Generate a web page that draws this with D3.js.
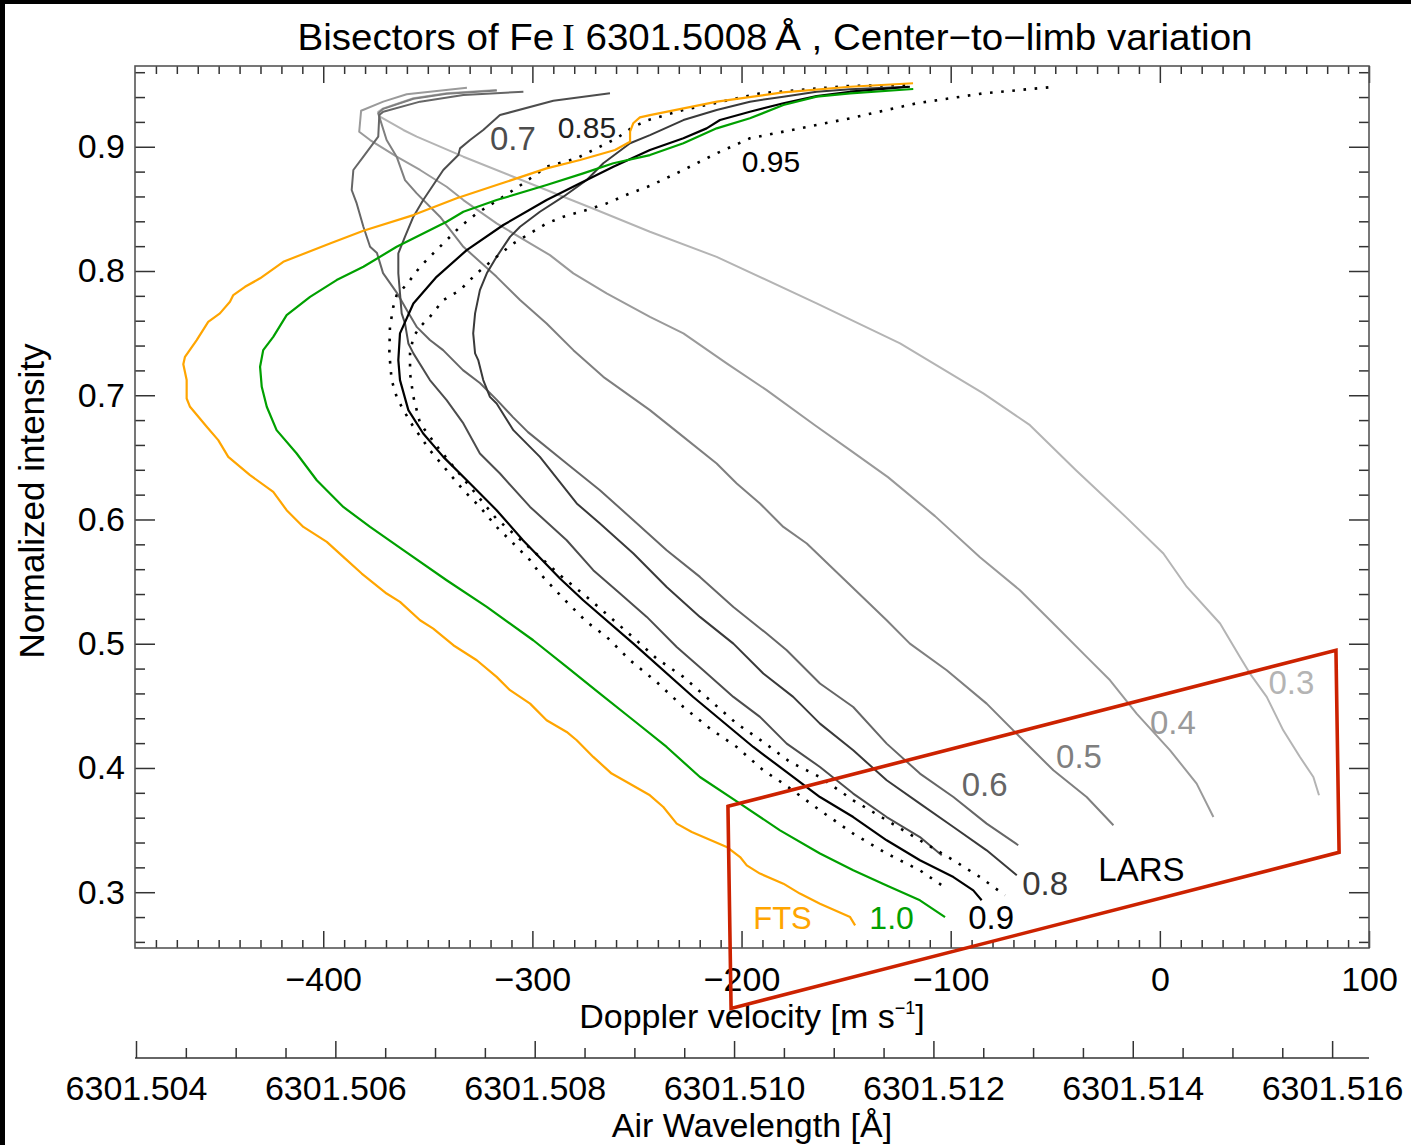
<!DOCTYPE html>
<html>
<head>
<meta charset="utf-8">
<script src="https://cdn.jsdelivr.net/npm/d3@7"></script>
<style>
  body { margin: 0; background: #fff; }
  svg { display: block; }
  text { font-family: "Liberation Sans", Arial, Helvetica, sans-serif; }
</style>
</head>
<body>
<svg id="chart" width="1411" height="1145"></svg>
<script>
// bisector curves, [velocity m/s, normalized intensity]
const mu03 = [[-317.1,0.9457],[-341.0,0.9430],[-356.9,0.9390],[-371.3,0.9309],[-373.7,0.9282],[-372.9,0.9242],[-361.7,0.9135],[-355.3,0.9081],[-333.0,0.8920],[-309.1,0.8759],[-285.2,0.8598],[-269.3,0.8491],[-243.8,0.8316],[-211.9,0.8114],[-164.1,0.7739],[-124.2,0.7417],[-84.4,0.7015],[-62.1,0.6759],[-40.1,0.6397],[-16.2,0.6019],[1.7,0.5726],[12.9,0.5457],[28.8,0.5163],[38.3,0.4894],[43.1,0.4760],[51.1,0.4572],[59.0,0.4303],[67.0,0.4088],[73.4,0.3927],[76.1,0.3780]];
const mu04 = [[-331.3,0.9475],[-349.0,0.9443],[-360.1,0.9422],[-371.3,0.9363],[-381.9,0.9290],[-382.8,0.9121],[-377.6,0.9054],[-364.9,0.8920],[-353.7,0.8813],[-341.0,0.8678],[-333.0,0.8571],[-317.1,0.8383],[-301.1,0.8222],[-291.6,0.8128],[-280.4,0.7981],[-264.5,0.7820],[-243.8,0.7631],[-227.8,0.7498],[-207.1,0.7256],[-188.0,0.7041],[-164.9,0.6759],[-148.1,0.6558],[-130.0,0.6341],[-107.5,0.6027],[-86.0,0.5696],[-66.9,0.5431],[-50.9,0.5163],[-35.0,0.4894],[-23.8,0.4706],[-11.1,0.4438],[4.9,0.4142],[17.6,0.3874],[25.6,0.3605]];
const mu05 = [[-317.0,0.9452],[-341.0,0.9426],[-356.9,0.9386],[-371.3,0.9305],[-373.7,0.9269],[-369.7,0.9054],[-364.9,0.8920],[-360.9,0.8732],[-355.3,0.8625],[-344.2,0.8437],[-333.0,0.8195],[-317.1,0.7953],[-305.9,0.7766],[-293.2,0.7578],[-280.4,0.7363],[-266.1,0.7148],[-243.8,0.6880],[-227.8,0.6665],[-211.9,0.6451],[-202.3,0.6290],[-191.2,0.6129],[-180.0,0.5940],[-168.8,0.5807],[-150.5,0.5511],[-130.6,0.5189],[-119.5,0.5001],[-101.9,0.4787],[-82.8,0.4518],[-66.9,0.4249],[-50.9,0.3981],[-35.0,0.3766],[-22.2,0.3539]];
const mu06 = [[-304.3,0.9443],[-333.0,0.9417],[-353.7,0.9363],[-371.3,0.9282],[-373.2,0.9255],[-373.7,0.9081],[-380.8,0.8920],[-385.6,0.8813],[-386.4,0.8652],[-384.0,0.8544],[-380.8,0.8356],[-377.6,0.8195],[-374.3,0.8144],[-371.4,0.7983],[-364.7,0.7822],[-360.0,0.7685],[-355.2,0.7548],[-349.0,0.7444],[-342.7,0.7363],[-333.2,0.7202],[-325.1,0.7098],[-316.9,0.6961],[-309.3,0.6824],[-302.1,0.6703],[-283.6,0.6451],[-267.7,0.6236],[-251.7,0.5994],[-235.8,0.5753],[-219.9,0.5538],[-203.9,0.5296],[-188.0,0.5082],[-178.4,0.4948],[-162.5,0.4680],[-146.6,0.4491],[-130.6,0.4196],[-114.7,0.3955],[-98.7,0.3766],[-82.8,0.3552],[-67.7,0.3378]];
const mu07 = [[-262.9,0.9430],[-290.0,0.9371],[-315.5,0.9255],[-323.5,0.9135],[-329.8,0.9054],[-334.6,0.8987],[-335.4,0.8933],[-342.6,0.8813],[-352.2,0.8571],[-356.9,0.8437],[-360.9,0.8276],[-364.1,0.8142],[-364.1,0.7981],[-363.3,0.7820],[-362.5,0.7659],[-360.9,0.7578],[-359.3,0.7417],[-356.9,0.7337],[-349.0,0.7122],[-341.0,0.6961],[-333.0,0.6773],[-325.1,0.6531],[-315.5,0.6370],[-301.1,0.6101],[-283.6,0.5833],[-270.9,0.5592],[-258.1,0.5404],[-245.3,0.5216],[-231.0,0.4974],[-218.3,0.4787],[-203.9,0.4572],[-191.2,0.4411],[-178.4,0.4196],[-162.5,0.4008],[-146.6,0.3794],[-130.6,0.3605],[-114.7,0.3444],[-104.3,0.3297]];
const mu08 = [[-120.3,0.9483],[-148.1,0.9462],[-164.1,0.9443],[-180.0,0.9403],[-196.0,0.9363],[-211.9,0.9296],[-227.8,0.9215],[-243.8,0.9094],[-253.3,0.9028],[-266.1,0.8867],[-274.0,0.8732],[-285.2,0.8598],[-296.4,0.8477],[-305.9,0.8356],[-310.7,0.8275],[-317.1,0.8114],[-321.8,0.7981],[-325.1,0.7846],[-327.4,0.7659],[-328.3,0.7498],[-327.4,0.7337],[-325.9,0.7283],[-323.5,0.7122],[-320.3,0.6987],[-317.1,0.6934],[-309.1,0.6719],[-296.4,0.6504],[-278.8,0.6129],[-267.7,0.5968],[-251.7,0.5726],[-235.8,0.5457],[-219.9,0.5216],[-203.9,0.5001],[-189.6,0.4760],[-175.3,0.4572],[-162.5,0.4357],[-146.6,0.4142],[-130.6,0.3901],[-114.7,0.3713],[-98.7,0.3525],[-82.8,0.3337],[-68.4,0.3136]];
const mu085 = [[-121.8,0.9497],[-149.7,0.9489],[-191.2,0.9430],[-227.8,0.9296],[-244.6,0.9215],[-251.7,0.9161],[-259.7,0.9068],[-269.3,0.8987],[-278.8,0.8907],[-293.2,0.8839],[-304.3,0.8706],[-313.9,0.8598],[-326.6,0.8464],[-334.6,0.8356],[-339.4,0.8275],[-347.4,0.8142],[-353.7,0.8034],[-358.5,0.7927],[-362.5,0.7846],[-364.9,0.7806],[-366.5,0.7712],[-368.1,0.7551],[-368.4,0.7337],[-367.3,0.7122],[-364.9,0.6987],[-361.7,0.6880],[-356.9,0.6746],[-349.0,0.6558],[-341.0,0.6397],[-333.0,0.6236],[-325.1,0.6101],[-317.1,0.5940],[-309.1,0.5807],[-301.1,0.5672],[-296.4,0.5565],[-285.2,0.5364],[-274.0,0.5175],[-264.5,0.5055],[-253.3,0.4867],[-240.6,0.4692],[-227.8,0.4491],[-215.1,0.4317],[-202.3,0.4169],[-189.6,0.3981],[-180.0,0.3874],[-162.5,0.3659],[-146.6,0.3472],[-130.6,0.3311],[-114.7,0.3176],[-101.9,0.3029]];
const mu09 = [[-119.5,0.9483],[-148.1,0.9443],[-164.1,0.9408],[-180.0,0.9350],[-196.0,0.9282],[-210.3,0.9215],[-216.7,0.9148],[-227.8,0.9068],[-243.8,0.8974],[-261.3,0.8839],[-277.2,0.8706],[-293.2,0.8571],[-313.9,0.8370],[-331.4,0.8168],[-345.8,0.7953],[-356.9,0.7739],[-363.3,0.7498],[-364.1,0.7283],[-363.3,0.7122],[-359.3,0.6880],[-352.2,0.6692],[-342.6,0.6504],[-329.8,0.6290],[-317.1,0.6075],[-304.5,0.5833],[-286.8,0.5525],[-275.7,0.5350],[-251.7,0.5001],[-223.1,0.4571],[-194.4,0.4169],[-162.5,0.3766],[-146.6,0.3605],[-130.6,0.3418],[-114.7,0.3257],[-98.7,0.3122],[-89.2,0.3015],[-85.2,0.2935]];
const mu095 = [[-53.3,0.9478],[-84.4,0.9430],[-116.3,0.9350],[-148.1,0.9229],[-172.1,0.9148],[-196.0,0.9068],[-211.9,0.8947],[-227.8,0.8813],[-243.8,0.8685],[-253.3,0.8625],[-264.5,0.8544],[-274.0,0.8491],[-285.2,0.8437],[-293.2,0.8383],[-301.1,0.8303],[-309.1,0.8222],[-317.1,0.8114],[-326.6,0.7981],[-334.6,0.7846],[-342.6,0.7766],[-349.0,0.7631],[-353.7,0.7551],[-356.9,0.7470],[-358.5,0.7337],[-358.5,0.7176],[-356.9,0.6987],[-353.7,0.6773],[-344.2,0.6558],[-329.8,0.6263],[-317.4,0.6010],[-302.7,0.5793],[-286.8,0.5552],[-274.0,0.5377],[-262.1,0.5203],[-249.4,0.5015],[-240.6,0.4881],[-227.8,0.4733],[-215.1,0.4545],[-202.3,0.4357],[-189.6,0.4209],[-176.8,0.4048],[-162.5,0.3927],[-146.6,0.3740],[-130.6,0.3579],[-114.7,0.3418],[-98.7,0.3257],[-86.0,0.3122],[-74.0,0.2975]];
const mu10 = [[-117.9,0.9465],[-148.1,0.9430],[-164.1,0.9403],[-180.0,0.9336],[-196.0,0.9229],[-211.9,0.9148],[-227.8,0.9028],[-243.8,0.8933],[-261.3,0.8867],[-275.7,0.8786],[-293.2,0.8692],[-317.1,0.8571],[-333.0,0.8477],[-341.0,0.8396],[-364.9,0.8195],[-380.8,0.8034],[-393.6,0.7927],[-406.3,0.7792],[-417.5,0.7645],[-423.9,0.7470],[-428.7,0.7363],[-430.2,0.7229],[-429.4,0.7068],[-427.0,0.6907],[-422.3,0.6719],[-412.7,0.6531],[-403.1,0.6316],[-390.4,0.6101],[-377.6,0.5940],[-361.7,0.5753],[-341.0,0.5511],[-321.8,0.5296],[-299.6,0.5028],[-283.6,0.4813],[-267.7,0.4599],[-251.7,0.4384],[-235.8,0.4169],[-219.9,0.3927],[-200.7,0.3713],[-181.6,0.3498],[-162.5,0.3311],[-146.6,0.3176],[-130.6,0.3055],[-114.7,0.2935],[-102.7,0.2800]];
const fts = [[-118.0,0.9511],[-148.1,0.9483],[-180.2,0.9438],[-211.7,0.9363],[-243.8,0.9255],[-248.6,0.9237],[-251.8,0.9189],[-253.3,0.9121],[-253.3,0.9040],[-260.5,0.8974],[-277.2,0.8893],[-293.2,0.8826],[-317.1,0.8692],[-336.2,0.8585],[-356.9,0.8450],[-380.8,0.8324],[-396.8,0.8222],[-419.1,0.8074],[-430.2,0.7941],[-437.4,0.7873],[-443.0,0.7806],[-444.6,0.7752],[-449.4,0.7659],[-455.0,0.7591],[-460.5,0.7444],[-466.1,0.7309],[-466.9,0.7250],[-465.3,0.7122],[-465.3,0.6974],[-463.7,0.6907],[-455.7,0.6746],[-450.2,0.6639],[-445.4,0.6504],[-435.0,0.6357],[-423.9,0.6222],[-417.5,0.6075],[-409.5,0.5940],[-398.3,0.5820],[-390.4,0.5699],[-381.6,0.5565],[-369.7,0.5404],[-363.3,0.5337],[-353.7,0.5189],[-347.4,0.5122],[-337.8,0.4988],[-326.6,0.4867],[-317.1,0.4733],[-310.7,0.4626],[-301.1,0.4518],[-293.2,0.4384],[-283.6,0.4290],[-278.8,0.4223],[-270.9,0.4089],[-262.1,0.3955],[-254.9,0.3887],[-243.8,0.3780],[-237.4,0.3686],[-231.0,0.3552],[-223.8,0.3485],[-207.1,0.3364],[-200.7,0.3283],[-197.5,0.3216],[-191.2,0.3150],[-180.0,0.3069],[-172.1,0.2989],[-162.5,0.2908],[-148.1,0.2800],[-145.7,0.2733]];

// curve labels: text, [velocity, intensity] of the baseline start
const labelText = ['0.3', '0.4', '0.5', '0.6', '0.7', '0.8', '0.85', '0.9', '0.95', '1.0', 'FTS', 'LARS'];
const labelPos = [[51.9,0.4599],[-4.7,0.4277],[-49.6,0.4003],[-94.7,0.3772],[-320.3,0.8974],[-65.8,0.2975],[-287.9,0.9073],[-91.6,0.2701],[-199.9,0.8794],[-138.9,0.2701],[-194.4,0.2707],[-29.4,0.3090]];

// LARS box corners, [velocity, intensity]
const larsBox = [[-206.5,0.3691],[84.2,0.4948],[85.7,0.3321],[-205.0,0.2065]];

const velDomain = [-490, 100];
const intDomain = [0.2551, 0.965];
const wlDomain = [6301.50399, 6301.51637];

const svg = d3.select('#chart');
const W = 1411, H = 1145;
const plot = { left: 135, right: 1369, top: 66, bottom: 948 };

const x = d3.scaleLinear().domain(velDomain).range([plot.left, plot.right]);
const y = d3.scaleLinear().domain(intDomain).range([plot.bottom, plot.top]);
const wl = d3.scaleLinear().domain(wlDomain).range([plot.left, plot.right]);

svg.append('rect').attr('width', W).attr('height', H).attr('fill', '#fff');
svg.append('rect').attr('x', 0).attr('y', 0).attr('width', 5).attr('height', H).attr('fill', '#000');
svg.append('rect').attr('x', 0).attr('y', 0).attr('width', W).attr('height', 4).attr('fill', '#000');

svg.append('clipPath').attr('id', 'clip')
    .append('rect')
    .attr('x', plot.left).attr('y', plot.top)
    .attr('width', plot.right - plot.left).attr('height', plot.bottom - plot.top);

// ticks
const velMajor = d3.range(-400, 101, 100);
const velMinor = d3.range(-480, 101, 10).filter(v => v % 100 !== 0);
const intMajor = d3.range(3, 10).map(d => d / 10);
const intMinor = d3.range(13, 49).map(d => d / 50).filter(d => Math.round(d * 50) % 5 !== 0);
const wlMajor = d3.range(0, 7).map(i => 6301.504 + i * 0.002);
const wlMinor = d3.range(0, 25).map(i => 6301.504 + i * 0.0005).filter((d, i) => i % 4 !== 0);

const fmtVel = d3.format('d');
const styleAxis = g => {
    g.select('.domain').remove();
    g.selectAll('line').attr('stroke', '#333').attr('stroke-width', 1.5);
    g.selectAll('text').attr('fill', '#000').attr('font-size', 34)
        .attr('font-family', '"Liberation Sans", Arial, sans-serif');
};

svg.append('g').attr('transform', `translate(0,${plot.bottom})`)
    .call(d3.axisBottom(x).tickValues(velMajor).tickSize(-17).tickPadding(19).tickFormat(fmtVel))
    .call(styleAxis);
svg.append('g').attr('transform', `translate(0,${plot.bottom})`)
    .call(d3.axisBottom(x).tickValues(velMinor).tickSize(-8).tickFormat(''))
    .call(styleAxis);
svg.append('g').attr('transform', `translate(0,${plot.top})`)
    .call(d3.axisTop(x).tickValues(velMajor).tickSize(-17).tickFormat(''))
    .call(styleAxis);
svg.append('g').attr('transform', `translate(0,${plot.top})`)
    .call(d3.axisTop(x).tickValues(velMinor).tickSize(-8).tickFormat(''))
    .call(styleAxis);

svg.append('g').attr('transform', `translate(${plot.left},0)`)
    .call(d3.axisLeft(y).tickValues(intMajor).tickSize(-20).tickPadding(10).tickFormat(d3.format('.1f')))
    .call(styleAxis);
svg.append('g').attr('transform', `translate(${plot.left},0)`)
    .call(d3.axisLeft(y).tickValues(intMinor).tickSize(-10).tickFormat(''))
    .call(styleAxis);
svg.append('g').attr('transform', `translate(${plot.right},0)`)
    .call(d3.axisRight(y).tickValues(intMajor).tickSize(-20).tickFormat(''))
    .call(styleAxis);
svg.append('g').attr('transform', `translate(${plot.right},0)`)
    .call(d3.axisRight(y).tickValues(intMinor).tickSize(-10).tickFormat(''))
    .call(styleAxis);

svg.append('rect')
    .attr('x', plot.left).attr('y', plot.top)
    .attr('width', plot.right - plot.left).attr('height', plot.bottom - plot.top)
    .attr('fill', 'none').attr('stroke', '#555').attr('stroke-width', 1.6);

// second axis: air wavelength
const wlY = 1058;
svg.append('line')
    .attr('x1', plot.left).attr('x2', plot.right).attr('y1', wlY).attr('y2', wlY)
    .attr('stroke', '#333').attr('stroke-width', 1.6);
svg.append('g').attr('transform', `translate(0,${wlY})`)
    .call(d3.axisBottom(wl).tickValues(wlMajor).tickSize(-17).tickPadding(18).tickFormat(d3.format('.3f')))
    .call(styleAxis);
svg.append('g').attr('transform', `translate(0,${wlY})`)
    .call(d3.axisBottom(wl).tickValues(wlMinor).tickSize(-10).tickFormat(''))
    .call(styleAxis);

// titles
const title = svg.append('text')
    .attr('x', 775).attr('y', 50)
    .attr('text-anchor', 'middle')
    .attr('font-size', 37)
    .attr('textLength', 955).attr('lengthAdjust', 'spacingAndGlyphs');
title.append('tspan').text('Bisectors of Fe');
title.append('tspan').attr('font-family', '"Liberation Serif", "Times New Roman", serif').text('\u2009I');
title.append('tspan').text(' 6301.5008\u2009Å , Center\u2212to\u2212limb variation');

const xTitle = svg.append('text')
    .attr('x', 752).attr('y', 1028)
    .attr('text-anchor', 'middle')
    .attr('font-size', 34);
xTitle.append('tspan').text('Doppler velocity [m s');
xTitle.append('tspan').attr('font-size', 18).attr('dy', -14).text('\u22121');
xTitle.append('tspan').attr('dy', 14).text(']');

svg.append('text')
    .attr('x', 752).attr('y', 1137)
    .attr('text-anchor', 'middle')
    .attr('font-size', 34)
    .text('Air Wavelength [Å]');

svg.append('text')
    .attr('transform', 'translate(44,501) rotate(-90)')
    .attr('text-anchor', 'middle')
    .attr('font-size', 35)
    .text('Normalized intensity');

// curves
const series = [
    { name: '0.3', data: mu03, color: '#b4b4b4', dash: null, width: 2 },
    { name: '0.4', data: mu04, color: '#9a9a9a', dash: null, width: 2 },
    { name: '0.5', data: mu05, color: '#7f7f7f', dash: null, width: 2 },
    { name: '0.6', data: mu06, color: '#666666', dash: null, width: 2 },
    { name: '0.7', data: mu07, color: '#4d4d4d', dash: null, width: 2 },
    { name: '0.8', data: mu08, color: '#3a3a3a', dash: null, width: 2 },
    { name: '0.85', data: mu085, color: '#000000', dash: '2.6,8.6', width: 2.6 },
    { name: '0.9', data: mu09, color: '#000000', dash: null, width: 2.2 },
    { name: '0.95', data: mu095, color: '#000000', dash: '2.6,8.6', width: 2.6 },
    { name: '1.0', data: mu10, color: '#00a000', dash: null, width: 2.2 },
    { name: 'FTS', data: fts, color: '#ffa500', dash: null, width: 2.2 }
];

const line = d3.line().x(d => x(d[0])).y(d => y(d[1]));

svg.append('g').attr('clip-path', 'url(#clip)')
    .selectAll('path.bisector')
    .data(series)
    .enter()
    .append('path')
    .attr('class', 'bisector')
    .attr('d', d => line(d.data))
    .attr('fill', 'none')
    .attr('stroke', d => d.color)
    .attr('stroke-width', d => d.width)
    .attr('stroke-dasharray', d => d.dash)
    .attr('stroke-linejoin', 'round');

// LARS box
svg.append('path')
    .attr('d', d3.line().x(d => x(d[0])).y(d => y(d[1]))(larsBox) + 'Z')
    .attr('fill', 'none')
    .attr('stroke', '#cc2200')
    .attr('stroke-width', 3.6)
    .attr('stroke-linejoin', 'miter');

// labels
const labelColor = ['#b4b4b4', '#9a9a9a', '#7f7f7f', '#666666', '#4d4d4d', '#3a3a3a', '#222222', '#000000', '#000000', '#00a000', '#ffa500', '#000000'];
const labelSize = [33, 33, 33, 33, 33, 33, 30, 33, 30, 32, 31, 33];

svg.selectAll('text.curve-label')
    .data(labelText)
    .enter()
    .append('text')
    .attr('class', 'curve-label')
    .attr('x', (d, i) => x(labelPos[i][0]))
    .attr('y', (d, i) => y(labelPos[i][1]))
    .attr('font-size', (d, i) => labelSize[i])
    .attr('fill', (d, i) => labelColor[i])
    .text(d => d);
</script>
</body>
</html>
